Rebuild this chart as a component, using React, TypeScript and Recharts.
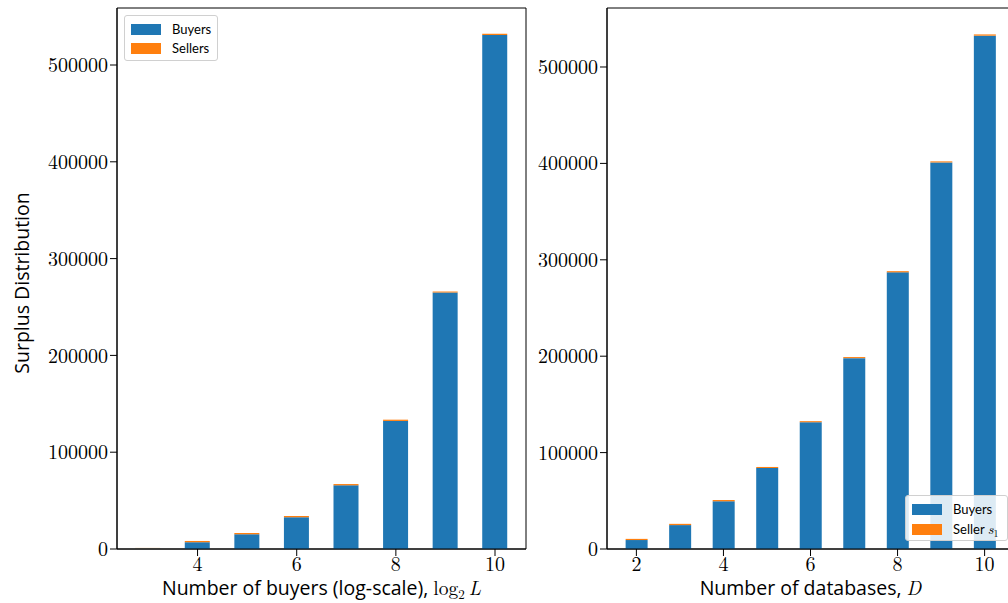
import { BarChart, Bar, XAxis, YAxis, ReferenceArea } from 'recharts';

// left panel: buyers sweep (log2 L)
const logBuyers = [3, 4, 5, 6, 7, 8, 9, 10];
const buyersSurplusL = [700, 7000, 15200, 32800, 65800, 132300, 265000, 531000];
const sellersSurplusL = [400, 1300, 1300, 1300, 1300, 1300, 1000, 1300];

// right panel: number of databases D
const databases = [2, 3, 4, 5, 6, 7, 8, 9, 10];
const buyersSurplusD = [9300, 24800, 49500, 84000, 131500, 198000, 287000, 401000, 532500];
const sellersSurplusD = [1200, 1300, 1300, 1100, 1100, 1100, 1200, 1100, 1300];

const yTicks = [0, 100000, 200000, 300000, 400000, 500000];
const xTicksL = [4, 6, 8, 10];
const xTicksD = [2, 4, 6, 8, 10];

const dataL = logBuyers.map((x, i) => ({ x, buyers: buyersSurplusL[i], sellers: sellersSurplusL[i] }));
const dataD = databases.map((x, i) => ({ x, buyers: buyersSurplusD[i], sellers: sellersSurplusD[i] }));

const BLUE = '#1f77b4';
const ORANGE = '#ff7f0e';
const SERIF = '"Latin Modern Roman", "DejaVu Serif", serif';
const SANS = '"Open Sans", Lato, sans-serif';
const LEG = 'Lato, "Open Sans", sans-serif';

const domL: [number, number] = [2.375, 10.625];
const domD: [number, number] = [1.325, 10.675];
const yMaxL = 558900;
const yMaxD = 561200;

const tickStyle = { fontFamily: SERIF, fontSize: 20, fill: '#000' };

const XTitle = ({ viewBox, children }: any) => {
  const vb = viewBox || { x: 0, y: 0, width: 0 };
  return (
    <text x={vb.x + vb.width / 2} y={vb.y + 46} textAnchor="middle" fontFamily={SANS} fontSize={19.5} fill="#000">
      {children}
    </text>
  );
};

const LegendBox = ({ second, style }: { second: any; style: any }) => (
  <div
    style={{
      position: 'absolute',
      boxSizing: 'border-box',
      border: '1px solid #d0d0d0',
      borderRadius: 3,
      background: 'rgba(255,255,255,0.85)',
      padding: '4px 6px',
      fontFamily: LEG,
      fontSize: 13,
      lineHeight: '19px',
      height: 46,
      ...style,
    }}
  >
    <div style={{ display: 'flex', alignItems: 'center', whiteSpace: 'nowrap' }}>
      <span style={{ width: 30, height: 11, background: BLUE, marginRight: 11, flex: 'none' }} />
      Buyers
    </div>
    <div style={{ display: 'flex', alignItems: 'center', whiteSpace: 'nowrap' }}>
      <span style={{ width: 30, height: 11, background: ORANGE, marginRight: 11, flex: 'none' }} />
      {second}
    </div>
  </div>
);

export default function App() {
  return (
    <div style={{ position: 'fixed', left: 0, top: 0, width: 1008, height: 603, overflow: 'hidden', background: '#fff' }}>
      <svg style={{ position: 'absolute', left: 0, top: 0 }} width={40} height={603}>
        <text
          x={29}
          y={283}
          transform="rotate(-90, 29, 283)"
          textAnchor="middle"
          fontFamily={SANS}
          fontSize={19.5}
          fill="#000"
        >
          Surplus Distribution
        </text>
      </svg>

      <div style={{ position: 'absolute', left: 0, top: 0 }}>
        <BarChart width={530} height={603} data={dataL} margin={{ top: 8, right: 4, bottom: 0, left: 0 }}>
          <XAxis
            dataKey="x"
            type="number"
            domain={domL}
            allowDataOverflow
            ticks={xTicksL}
            height={54}
            tick={tickStyle}
            tickSize={7}
            tickMargin={1}
            stroke="#000"
            label={
              <XTitle>
                Number of buyers (log-scale),{' '}
                <tspan fontFamily={SERIF}>log</tspan>
                <tspan fontFamily={SERIF} fontSize={13} dy={4}>2</tspan>
                <tspan fontFamily={SERIF} fontStyle="italic" dy={-4} dx={4}>L</tspan>
              </XTitle>
            }
          />
          <YAxis
            type="number"
            domain={[0, yMaxL]}
            allowDataOverflow
            ticks={yTicks}
            width={117}
            tick={tickStyle}
            tickSize={7}
            tickMargin={2}
            stroke="#000"
          />
          <Bar dataKey="buyers" stackId="s" fill={BLUE} barSize={25} isAnimationActive={false} />
          <Bar dataKey="sellers" stackId="s" fill={ORANGE} barSize={25} isAnimationActive={false} />
          <ReferenceArea x1={domL[0]} x2={domL[1]} y1={0} y2={yMaxL} fill="none" stroke="#000" strokeWidth={1} ifOverflow="visible" />
        </BarChart>
      </div>

      <div style={{ position: 'absolute', left: 530, top: 0 }}>
        <BarChart width={488} height={603} data={dataD} margin={{ top: 8, right: 4, bottom: 0, left: 0 }}>
          <XAxis
            dataKey="x"
            type="number"
            domain={domD}
            allowDataOverflow
            ticks={xTicksD}
            height={54}
            tick={tickStyle}
            tickSize={7}
            tickMargin={1}
            stroke="#000"
            label={
              <XTitle>
                Number of databases, <tspan fontFamily={SERIF} fontStyle="italic">D</tspan>
              </XTitle>
            }
          />
          <YAxis
            type="number"
            domain={[0, yMaxD]}
            allowDataOverflow
            ticks={yTicks}
            width={77}
            tick={tickStyle}
            tickSize={7}
            tickMargin={2}
            stroke="#000"
          />
          <Bar dataKey="buyers" stackId="s" fill={BLUE} barSize={22} isAnimationActive={false} />
          <Bar dataKey="sellers" stackId="s" fill={ORANGE} barSize={22} isAnimationActive={false} />
          <ReferenceArea x1={domD[0]} x2={domD[1]} y1={0} y2={yMaxD} fill="none" stroke="#000" strokeWidth={1} ifOverflow="visible" />
        </BarChart>
      </div>

      <LegendBox second="Sellers" style={{ left: 124, top: 15, width: 94 }} />
      <LegendBox
        second={
          <span>
            Seller <i style={{ fontFamily: SERIF, fontSize: 14 }}>s</i>
            <span style={{ fontFamily: SERIF, fontSize: 10, position: 'relative', top: 3 }}>1</span>
          </span>
        }
        style={{ left: 905, top: 495, width: 103 }}
      />
    </div>
  );
}
